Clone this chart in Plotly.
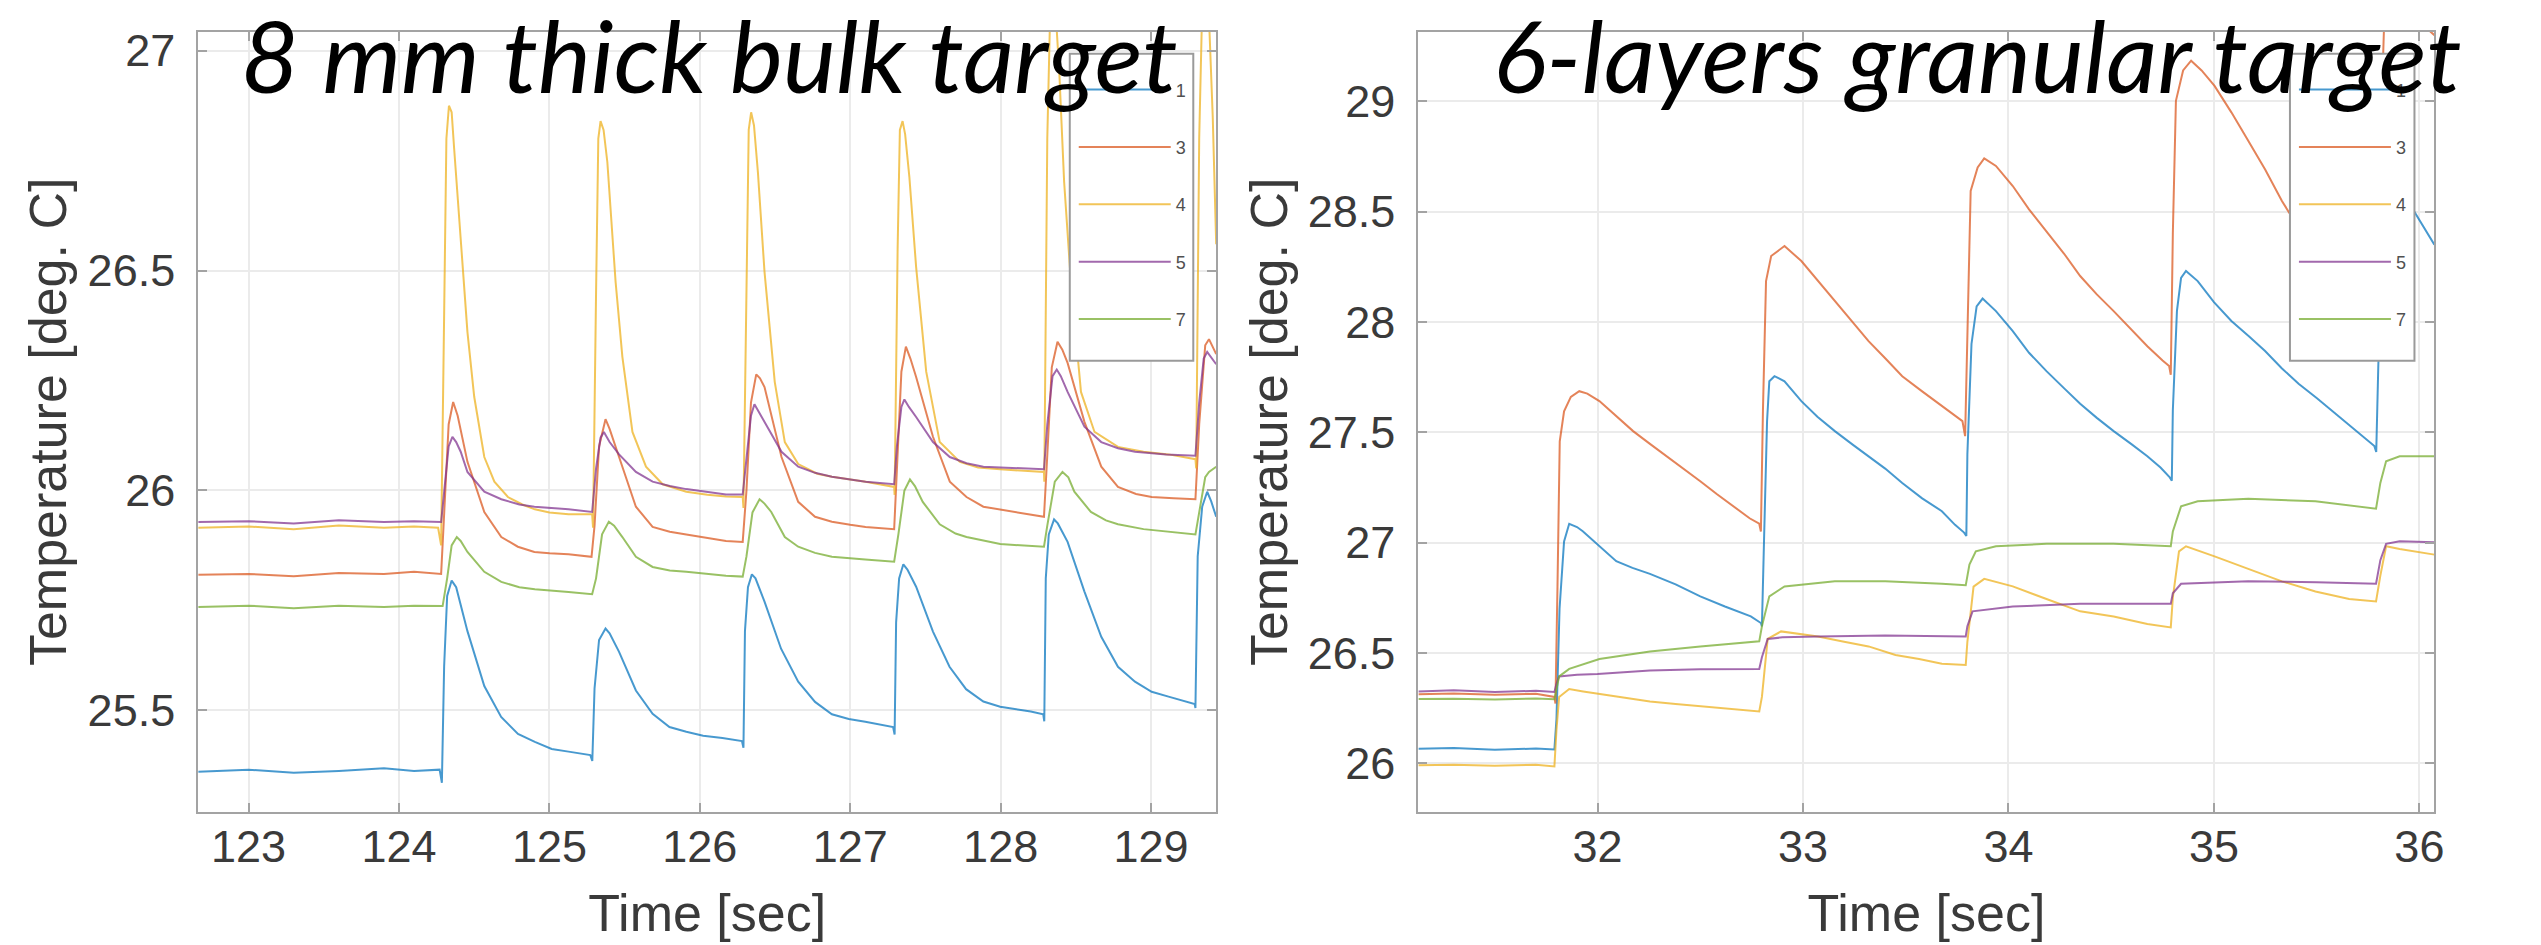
import plotly.graph_objects as go

# ---------------- Left panel: 8 mm thick bulk target ----------------
bulk_t1 = [122.665, 123.0, 123.3, 123.6, 123.9, 124.1, 124.27, 124.285, 124.30, 124.32, 124.35, 124.38, 124.455, 124.567, 124.679, 124.791, 124.903, 125.015, 125.127, 125.272, 125.285, 125.30, 125.33, 125.373, 125.40, 125.463, 125.575, 125.686, 125.798, 125.91, 126.022, 126.15, 126.28, 126.29, 126.30, 126.32, 126.346, 126.37, 126.43, 126.54, 126.654, 126.766, 126.878, 126.99, 127.10, 127.2, 127.285, 127.295, 127.305, 127.325, 127.353, 127.38, 127.438, 127.55, 127.66, 127.77, 127.885, 127.997, 128.11, 128.2, 128.283, 128.29, 128.30, 128.32, 128.355, 128.38, 128.445, 128.557, 128.669, 128.78, 128.893, 129.004, 129.116, 129.2, 129.29, 129.295, 129.31, 129.34, 129.373, 129.40, 129.433]
bulk_T1 = [25.360, 25.365, 25.358, 25.362, 25.368, 25.362, 25.365, 25.335, 25.60, 25.76, 25.795, 25.78, 25.68, 25.555, 25.485, 25.446, 25.428, 25.412, 25.406, 25.398, 25.385, 25.55, 25.66, 25.686, 25.675, 25.633, 25.545, 25.492, 25.462, 25.451, 25.442, 25.437, 25.430, 25.415, 25.68, 25.78, 25.809, 25.80, 25.747, 25.64, 25.565, 25.519, 25.491, 25.48, 25.474, 25.468, 25.462, 25.445, 25.70, 25.80, 25.832, 25.82, 25.781, 25.679, 25.599, 25.548, 25.52, 25.508, 25.502, 25.497, 25.491, 25.475, 25.80, 25.90, 25.934, 25.925, 25.883, 25.77, 25.667, 25.599, 25.565, 25.542, 25.531, 25.522, 25.514, 25.505, 25.85, 25.963, 25.997, 25.975, 25.940]

bulk_t3 = [122.665, 123.0, 123.3, 123.6, 123.9, 124.1, 124.28, 124.30, 124.33, 124.36, 124.39, 124.455, 124.567, 124.68, 124.79, 124.9, 125.0, 125.127, 125.28, 125.30, 125.33, 125.373, 125.40, 125.463, 125.575, 125.686, 125.8, 125.91, 126.05, 126.174, 126.285, 126.31, 126.34, 126.375, 126.40, 126.43, 126.543, 126.654, 126.766, 126.878, 127.0, 127.102, 127.292, 127.31, 127.34, 127.37, 127.40, 127.438, 127.55, 127.662, 127.773, 127.885, 128.0, 128.109, 128.288, 128.31, 128.34, 128.378, 128.41, 128.445, 128.557, 128.669, 128.78, 128.9, 129.004, 129.15, 129.295, 129.32, 129.36, 129.385, 129.433]
bulk_T3 = [25.808, 25.81, 25.805, 25.812, 25.81, 25.815, 25.81, 25.95, 26.15, 26.201, 26.17, 26.065, 25.951, 25.894, 25.872, 25.86, 25.857, 25.855, 25.849, 25.92, 26.10, 26.162, 26.14, 26.076, 25.963, 25.917, 25.906, 25.90, 25.892, 25.885, 25.883, 26.00, 26.20, 26.264, 26.255, 26.235, 26.076, 25.974, 25.94, 25.929, 25.922, 25.917, 25.912, 26.05, 26.27, 26.327, 26.30, 26.258, 26.122, 26.02, 25.985, 25.963, 25.956, 25.951, 25.94, 26.08, 26.28, 26.338, 26.32, 26.29, 26.156, 26.054, 26.008, 25.992, 25.985, 25.982, 25.98, 26.15, 26.33, 26.344, 26.31]

bulk_t4 = [122.665, 123.0, 123.3, 123.6, 123.9, 124.1, 124.26, 124.28, 124.30, 124.315, 124.332, 124.35, 124.366, 124.41, 124.455, 124.50, 124.567, 124.634, 124.724, 124.82, 124.903, 125.0, 125.127, 125.284, 125.29, 125.31, 125.325, 125.34, 125.36, 125.385, 125.44, 125.485, 125.552, 125.642, 125.753, 125.91, 126.05, 126.174, 126.285, 126.29, 126.31, 126.325, 126.341, 126.36, 126.386, 126.43, 126.498, 126.565, 126.654, 126.78, 126.878, 127.0, 127.102, 127.292, 127.295, 127.315, 127.33, 127.348, 127.365, 127.393, 127.438, 127.505, 127.595, 127.729, 127.85, 127.997, 128.288, 128.29, 128.31, 128.33, 128.36, 128.39, 128.422, 128.467, 128.534, 128.624, 128.78, 128.95, 129.116, 129.295, 129.30, 129.32, 129.34, 129.38, 129.41, 129.433]
bulk_T4 = [25.915, 25.918, 25.912, 25.92, 25.915, 25.918, 25.915, 25.875, 26.40, 26.80, 26.875, 26.86, 26.78, 26.565, 26.36, 26.213, 26.076, 26.02, 25.985, 25.968, 25.957, 25.95, 25.946, 25.946, 25.915, 26.45, 26.80, 26.84, 26.82, 26.747, 26.474, 26.304, 26.133, 26.054, 26.014, 25.997, 25.99, 25.986, 25.985, 25.96, 26.50, 26.82, 26.86, 26.83, 26.724, 26.497, 26.247, 26.11, 26.06, 26.038, 26.031, 26.025, 26.02, 26.008, 25.99, 26.55, 26.82, 26.84, 26.81, 26.713, 26.508, 26.27, 26.11, 26.065, 26.052, 26.048, 26.042, 26.02, 26.80, 27.10, 27.12, 26.95, 26.702, 26.474, 26.224, 26.133, 26.099, 26.088, 26.082, 26.071, 26.05, 26.80, 27.10, 27.12, 26.85, 26.56]

bulk_t5 = [122.665, 123.0, 123.3, 123.6, 123.9, 124.1, 124.28, 124.30, 124.33, 124.355, 124.38, 124.41, 124.455, 124.567, 124.68, 124.8, 124.9, 125.127, 125.284, 125.31, 125.34, 125.362, 125.40, 125.463, 125.575, 125.686, 125.8, 125.91, 126.174, 126.285, 126.31, 126.34, 126.363, 126.39, 126.43, 126.543, 126.654, 126.766, 126.878, 127.102, 127.292, 127.31, 127.34, 127.36, 127.39, 127.438, 127.55, 127.662, 127.773, 127.885, 128.288, 128.31, 128.345, 128.373, 128.40, 128.445, 128.557, 128.669, 128.78, 128.893, 129.1, 129.295, 129.32, 129.35, 129.373, 129.433]
bulk_T5 = [25.928, 25.93, 25.925, 25.932, 25.928, 25.93, 25.928, 26.00, 26.10, 26.122, 26.11, 26.088, 26.042, 25.997, 25.98, 25.968, 25.963, 25.957, 25.951, 26.05, 26.12, 26.133, 26.11, 26.082, 26.042, 26.02, 26.01, 26.003, 25.991, 25.991, 26.08, 26.17, 26.196, 26.18, 26.156, 26.088, 26.054, 26.04, 26.031, 26.02, 26.014, 26.10, 26.19, 26.207, 26.19, 26.167, 26.11, 26.076, 26.062, 26.054, 26.048, 26.15, 26.26, 26.275, 26.26, 26.224, 26.145, 26.11, 26.096, 26.088, 26.082, 26.079, 26.20, 26.30, 26.315, 26.287]

bulk_t7 = [122.665, 123.0, 123.3, 123.6, 123.9, 124.1, 124.29, 124.32, 124.35, 124.384, 124.41, 124.455, 124.567, 124.68, 124.8, 124.903, 125.127, 125.284, 125.31, 125.35, 125.395, 125.43, 125.485, 125.575, 125.686, 125.8, 125.91, 126.174, 126.285, 126.31, 126.35, 126.397, 126.43, 126.475, 126.565, 126.654, 126.766, 126.878, 127.1, 127.292, 127.32, 127.36, 127.397, 127.43, 127.482, 127.595, 127.7, 127.773, 127.997, 128.288, 128.31, 128.36, 128.411, 128.45, 128.49, 128.6, 128.7, 128.78, 128.95, 129.116, 129.295, 129.32, 129.36, 129.385, 129.433]
bulk_T7 = [25.735, 25.738, 25.732, 25.738, 25.735, 25.738, 25.737, 25.80, 25.875, 25.894, 25.885, 25.86, 25.815, 25.792, 25.78, 25.775, 25.769, 25.764, 25.80, 25.90, 25.929, 25.92, 25.894, 25.849, 25.826, 25.818, 25.815, 25.806, 25.804, 25.85, 25.95, 25.98, 25.97, 25.951, 25.894, 25.872, 25.858, 25.849, 25.843, 25.838, 25.90, 26.00, 26.025, 26.01, 25.974, 25.923, 25.902, 25.894, 25.878, 25.872, 25.92, 26.02, 26.042, 26.03, 25.997, 25.951, 25.932, 25.923, 25.912, 25.906, 25.90, 25.95, 26.03, 26.042, 26.054]

# ---------------- Right panel: 6-layers granular target ----------------
gran_t1 = [31.128, 31.3, 31.5, 31.7, 31.79, 31.80, 31.815, 31.837, 31.862, 31.90, 31.928, 32.009, 32.091, 32.17, 32.255, 32.38, 32.5, 32.62, 32.746, 32.795, 32.80, 32.81, 32.825, 32.836, 32.861, 32.91, 32.992, 33.07, 33.155, 33.24, 33.319, 33.40, 33.483, 33.58, 33.676, 33.74, 33.784, 33.795, 33.80, 33.82, 33.845, 33.874, 33.939, 34.021, 34.1, 34.185, 34.27, 34.349, 34.43, 34.512, 34.6, 34.676, 34.74, 34.785, 34.795, 34.80, 34.82, 34.84, 34.864, 34.921, 35.0, 35.085, 35.17, 35.249, 35.33, 35.412, 35.5, 35.576, 35.68, 35.781, 35.79, 35.80, 35.82, 35.85, 35.88, 35.93, 35.969, 36.073]
gran_T1 = [26.065, 26.068, 26.06, 26.066, 26.062, 26.20, 26.70, 27.005, 27.085, 27.07, 27.051, 26.983, 26.915, 26.885, 26.858, 26.81, 26.756, 26.71, 26.665, 26.635, 26.62, 27.0, 27.55, 27.731, 27.754, 27.731, 27.641, 27.57, 27.505, 27.445, 27.391, 27.335, 27.27, 27.2, 27.142, 27.08, 27.045, 27.03, 27.4, 27.9, 28.07, 28.106, 28.049, 27.958, 27.86, 27.777, 27.70, 27.629, 27.565, 27.505, 27.445, 27.391, 27.34, 27.295, 27.28, 27.6, 28.05, 28.2, 28.231, 28.185, 28.09, 28.004, 27.935, 27.868, 27.79, 27.72, 27.655, 27.595, 27.515, 27.437, 27.41, 27.8, 28.4, 28.62, 28.66, 28.58, 28.51, 28.35]

gran_t3 = [31.128, 31.3, 31.5, 31.7, 31.79, 31.795, 31.805, 31.816, 31.837, 31.87, 31.911, 31.95, 32.009, 32.09, 32.173, 32.255, 32.337, 32.42, 32.5, 32.58, 32.664, 32.74, 32.787, 32.795, 32.805, 32.82, 32.845, 32.91, 32.992, 33.07, 33.155, 33.24, 33.319, 33.4, 33.483, 33.58, 33.676, 33.776, 33.789, 33.80, 33.816, 33.85, 33.882, 33.939, 34.021, 34.1, 34.185, 34.27, 34.349, 34.43, 34.512, 34.6, 34.676, 34.75, 34.782, 34.79, 34.80, 34.815, 34.85, 34.889, 34.94, 35.003, 35.085, 35.167, 35.25, 35.331, 35.45, 35.6, 35.79, 35.80, 35.83, 35.9, 36.0, 36.073]
gran_T3 = [26.312, 26.315, 26.31, 26.314, 26.30, 26.27, 26.8, 27.459, 27.595, 27.66, 27.686, 27.675, 27.641, 27.575, 27.505, 27.447, 27.391, 27.335, 27.278, 27.22, 27.164, 27.11, 27.085, 27.05, 27.6, 28.185, 28.299, 28.344, 28.276, 28.19, 28.095, 28.0, 27.913, 27.835, 27.754, 27.685, 27.618, 27.55, 27.482, 28.0, 28.594, 28.70, 28.741, 28.707, 28.616, 28.51, 28.412, 28.31, 28.208, 28.125, 28.049, 27.965, 27.89, 27.825, 27.80, 27.76, 28.4, 29.002, 29.14, 29.184, 29.14, 29.07, 28.95, 28.821, 28.69, 28.548, 28.37, 28.16, 27.9, 28.5, 29.4, 29.55, 29.36, 29.3]

gran_t4 = [31.128, 31.3, 31.5, 31.7, 31.79, 31.80, 31.813, 31.862, 31.93, 32.009, 32.13, 32.255, 32.38, 32.5, 32.65, 32.787, 32.80, 32.828, 32.893, 33.073, 33.2, 33.319, 33.45, 33.565, 33.676, 33.792, 33.80, 33.83, 33.882, 34.021, 34.185, 34.349, 34.512, 34.676, 34.79, 34.80, 34.83, 34.864, 35.003, 35.167, 35.331, 35.494, 35.658, 35.789, 35.81, 35.838, 35.904, 36.073]
gran_T4 = [25.99, 25.993, 25.988, 25.992, 25.985, 26.15, 26.30, 26.336, 26.325, 26.313, 26.296, 26.279, 26.268, 26.257, 26.245, 26.234, 26.30, 26.563, 26.597, 26.574, 26.55, 26.529, 26.49, 26.472, 26.45, 26.445, 26.55, 26.80, 26.835, 26.801, 26.744, 26.688, 26.665, 26.631, 26.615, 26.75, 26.96, 26.983, 26.937, 26.88, 26.824, 26.778, 26.744, 26.733, 26.85, 26.983, 26.971, 26.945]

gran_t5 = [31.128, 31.3, 31.5, 31.7, 31.79, 31.80, 31.813, 31.9, 32.0, 32.255, 32.5, 32.787, 32.80, 32.828, 32.9, 33.073, 33.4, 33.792, 33.80, 33.825, 34.021, 34.349, 34.79, 34.80, 34.84, 35.167, 35.5, 35.789, 35.81, 35.838, 35.904, 36.073]
gran_T5 = [26.325, 26.33, 26.322, 26.328, 26.322, 26.36, 26.393, 26.40, 26.404, 26.42, 26.425, 26.427, 26.48, 26.563, 26.57, 26.574, 26.578, 26.574, 26.62, 26.688, 26.71, 26.722, 26.722, 26.77, 26.813, 26.824, 26.82, 26.813, 26.92, 26.994, 27.006, 27.001]

gran_t7 = [31.128, 31.3, 31.5, 31.7, 31.79, 31.80, 31.813, 31.862, 32.009, 32.255, 32.5, 32.787, 32.80, 32.836, 32.91, 33.155, 33.4, 33.676, 33.792, 33.81, 33.841, 33.939, 34.185, 34.512, 34.79, 34.80, 34.84, 34.921, 35.167, 35.494, 35.789, 35.81, 35.838, 35.904, 36.073]
gran_T7 = [26.29, 26.292, 26.288, 26.293, 26.29, 26.34, 26.393, 26.427, 26.472, 26.506, 26.529, 26.552, 26.62, 26.756, 26.801, 26.824, 26.824, 26.813, 26.806, 26.90, 26.96, 26.983, 26.994, 26.994, 26.983, 27.05, 27.164, 27.187, 27.198, 27.187, 27.153, 27.27, 27.368, 27.391, 27.391]

sensor_names = ["1", "3", "4", "5", "7"]
sensor_colors = ["rgba(0,114,189,0.72)", "rgba(217,83,25,0.72)", "rgba(237,177,32,0.75)",
                 "rgba(126,47,142,0.72)", "rgba(119,172,48,0.75)"]

panel_titles = ["8 mm thick bulk target", "6-layers granular target"]
bulk_xticks = [123, 124, 125, 126, 127, 128, 129]
bulk_yticks = [25.5, 26, 26.5, 27]
gran_xticks = [32, 33, 34, 35, 36]
gran_yticks = [26, 26.5, 27, 27.5, 28, 28.5, 29]

bulk_series = [(bulk_t1, bulk_T1), (bulk_t3, bulk_T3), (bulk_t4, bulk_T4), (bulk_t5, bulk_T5), (bulk_t7, bulk_T7)]
gran_series = [(gran_t1, gran_T1), (gran_t3, gran_T3), (gran_t4, gran_T4), (gran_t5, gran_T5), (gran_t7, gran_T7)]

W, H = 2541, 945
fig = go.Figure()
for name, col, (t, T) in zip(sensor_names, sensor_colors, bulk_series):
    fig.add_trace(go.Scatter(x=t, y=T, mode="lines", name=name, line=dict(color=col, width=2),
                             xaxis="x", yaxis="y", legend="legend", legendgroup="b" + name))
for name, col, (t, T) in zip(sensor_names, sensor_colors, gran_series):
    fig.add_trace(go.Scatter(x=t, y=T, mode="lines", name=name, line=dict(color=col, width=2),
                             xaxis="x2", yaxis="y2", legend="legend2", legendgroup="g" + name))

tickfont = dict(family="Liberation Sans, Arial, sans-serif", size=45, color="#3a3a3a")
titlefont = dict(family="Liberation Sans, Arial, sans-serif", size=52, color="#3a3a3a")

def xax(domain, rng, ticks):
    return dict(domain=domain, range=rng, tickvals=ticks, showgrid=True, gridcolor="#ebebeb", gridwidth=1.5,
                zeroline=False, showline=True, mirror="ticks", linecolor="#a3a3a3", linewidth=2,
                ticks="inside", ticklen=9, tickwidth=1.5, tickcolor="#a3a3a3", tickfont=tickfont,
                ticklabelstandoff=-6, title=dict(text="Time [sec]", font=titlefont, standoff=24))

def yax(domain, rng, ticks, anchor):
    return dict(domain=domain, range=rng, tickvals=ticks, showgrid=True, gridcolor="#ebebeb", gridwidth=1.5,
                zeroline=False, showline=True, mirror="ticks", linecolor="#a3a3a3", linewidth=2,
                ticks="inside", ticklen=9, tickwidth=1.5, tickcolor="#a3a3a3", tickfont=tickfont,
                ticklabelstandoff=12, anchor=anchor,
                title=dict(text="Temperature [deg. C]", font=titlefont, standoff=4))

ydom = [1 - 811 / H, 1 - 26 / H]
legend_common = dict(bgcolor="rgba(0,0,0,0)", borderwidth=0,
                     font=dict(family="Liberation Sans, Arial, sans-serif", size=18, color="#505050"),
                     itemwidth=92, tracegroupgap=31, xanchor="left", yanchor="top",
                     title=dict(text=" ", font=dict(size=12)))

fig.update_layout(
    width=W, height=H, margin=dict(l=0, r=0, t=0, b=0),
    paper_bgcolor="white", plot_bgcolor="white",
    xaxis=xax([199 / W, 1221 / W], [122.665, 129.433], bulk_xticks) | dict(anchor="y"),
    yaxis=yax(ydom, [25.269, 27.043], bulk_yticks, "x"),
    xaxis2=xax([1424 / W, 2444 / W], [31.128, 36.073], gran_xticks) | dict(anchor="y2"),
    yaxis2=yax(ydom, [25.779, 29.315], gran_yticks, "x2"),
    legend=legend_common | dict(x=1078 / W, y=1 - 50 / H),
    legend2=legend_common | dict(x=2303 / W, y=1 - 50 / H),
    showlegend=True,
)

# legend frames (white boxes behind the legend entries)
for x0, x1 in [(1074, 1198), (2299, 2424)]:
    fig.add_shape(type="rect", xref="paper", yref="paper", x0=x0 / W, x1=x1 / W,
                  y0=1 - 357 / H, y1=1 - 48 / H, fillcolor="white",
                  line=dict(color="#9a9a9a", width=2), layer="above")

title_font = dict(family="Lato, Open Sans, sans-serif", size=100, color="black", style="italic")
for txt, cx in zip(panel_titles, [712, 1985]):
    fig.add_annotation(text=txt, xref="paper", yref="paper", x=cx / W, y=1 - 48 / H,
                       xanchor="center", yanchor="middle", showarrow=False, font=title_font)

fig.write_html("out.html", config={"displayModeBar": False},
               post_script="document.body.style.margin='0';document.body.style.overflow='hidden';")
